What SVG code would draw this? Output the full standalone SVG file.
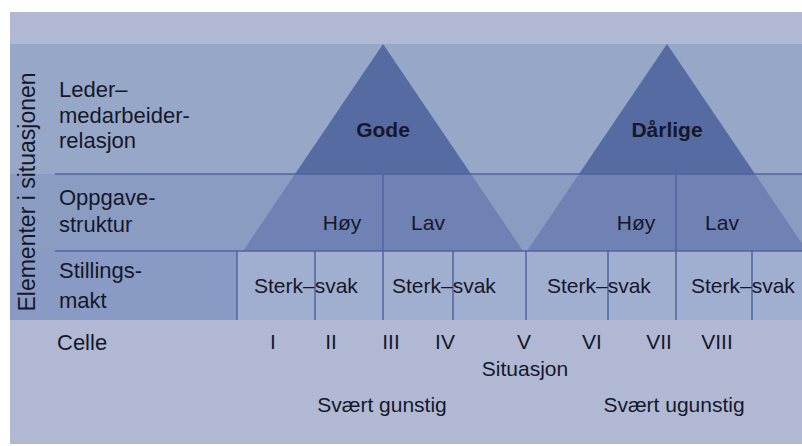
<svg xmlns="http://www.w3.org/2000/svg" width="802" height="446" viewBox="0 0 802 446">
<style>
text{font-family:"Liberation Sans",Arial,sans-serif;fill:#15182a;}
.lbl{font-size:22px;}
.t{font-size:21px;}
.b{font-size:21px;font-weight:bold;}
.m{text-anchor:middle;}
.ln{stroke:#5063a0;stroke-width:1.5;fill:none;}
</style>
<rect x="0" y="0" width="802" height="446" fill="#ffffff"/>
<g id="background">
<rect x="10" y="12" width="792" height="432" fill="#b0b8d3"/>
<rect x="10" y="44" width="792" height="130" fill="#97a7c8"/>
<rect x="10" y="174" width="792" height="77" fill="#8b9cc3"/>
<rect x="10" y="251" width="227" height="69" fill="#899ac4"/>
<rect x="237" y="251" width="565" height="69" fill="#a0aed0"/>
</g>
<g id="triangle-gode">
<polygon points="383,44 471,174 295,174" fill="#566ba2"/>
<polygon points="295,174 471,174 523,251 243,251" fill="#7082b3"/>
<text class="b m" x="383" y="137">Gode</text>
</g>
<g id="triangle-darlige">
<polygon points="667,44 755,174 579,174" fill="#566ba2"/>
<polygon points="579,174 755,174 807,251 527,251" fill="#7082b3"/>
<text class="b m" x="667" y="137">Dårlige</text>
</g>
<g id="connectors">
<line class="ln" x1="55" y1="174" x2="802" y2="174"/>
<line class="ln" x1="55" y1="251" x2="802" y2="251"/>
<line class="ln" x1="383" y1="174" x2="383" y2="320"/>
<line class="ln" x1="676" y1="174" x2="676" y2="320"/>
<line class="ln" x1="237" y1="251" x2="237" y2="320"/>
<line class="ln" x1="315" y1="251" x2="315" y2="320"/>
<line class="ln" x1="453" y1="251" x2="453" y2="320"/>
<line class="ln" x1="526" y1="251" x2="526" y2="320"/>
<line class="ln" x1="608" y1="251" x2="608" y2="320"/>
<line class="ln" x1="752" y1="251" x2="752" y2="320"/>
</g>
<g id="axis-label">
<text class="m" transform="translate(35,192) rotate(-90)" style="font-size:23px">Elementer i situasjonen</text>
</g>
<g id="row-leder">
<text class="lbl" x="59" y="97">Leder–</text>
<text class="lbl" x="59" y="123">medarbeider-</text>
<text class="lbl" x="59" y="148">relasjon</text>
</g>
<g id="row-oppgave">
<text class="lbl" x="59" y="205">Oppgave-</text>
<text class="lbl" x="59" y="232">struktur</text>
<text class="t m" x="342" y="230">Høy</text>
<text class="t m" x="428" y="230">Lav</text>
<text class="t m" x="636" y="230">Høy</text>
<text class="t m" x="722" y="230">Lav</text>
</g>
<g id="row-stillings">
<text class="lbl" x="59" y="278">Stillings-</text>
<text class="lbl" x="59" y="308">makt</text>
<text class="t" x="254" y="293">Sterk–svak</text>
<text class="t" x="392" y="293">Sterk–svak</text>
<text class="t" x="547" y="293">Sterk–svak</text>
<text class="t" x="691" y="293">Sterk–svak</text>
</g>
<g id="row-celle">
<text class="lbl" x="57" y="350">Celle</text>
<text class="t m" x="273" y="349">I</text>
<text class="t m" x="331" y="349">II</text>
<text class="t m" x="391" y="349">III</text>
<text class="t m" x="445" y="349">IV</text>
<text class="t m" x="524" y="349">V</text>
<text class="t m" x="592" y="349">VI</text>
<text class="t m" x="659" y="349">VII</text>
<text class="t m" x="717" y="349">VIII</text>
</g>
<g id="situasjon">
<text class="t m" x="525" y="376">Situasjon</text>
<text class="t m" x="382" y="412">Svært gunstig</text>
<text class="t m" x="674" y="412">Svært ugunstig</text>
</g>
</svg>
